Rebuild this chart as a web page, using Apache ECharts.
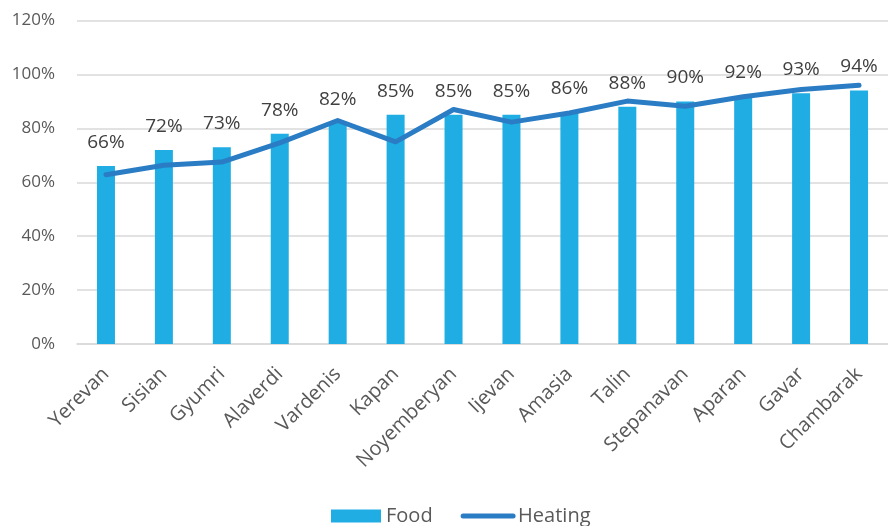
<!DOCTYPE html>
<html>
<head>
<meta charset="utf-8">
<script src="https://cdn.jsdelivr.net/npm/echarts@6/dist/echarts.min.js"></script>
<style>
  html, body { margin: 0; padding: 0; background: #ffffff; }
  #chart { width: 888px; height: 526px; }
</style>
</head>
<body>
<div id="chart"></div>
<script>
// Towns along the category axis
const towns = ['Yerevan', 'Sisian', 'Gyumri', 'Alaverdi', 'Vardenis', 'Kapan', 'Noyemberyan',
  'Ijevan', 'Amasia', 'Talin', 'Stepanavan', 'Aparan', 'Gavar', 'Chambarak'];

// Share of households (%) per town
const food = [66, 72, 73, 78, 82, 85, 85, 85, 86, 88, 90, 92, 93, 94];
const heating = [62.8, 66.3, 67.5, 74.6, 82.9, 75.0, 87.0, 82.3, 85.7, 90.1, 88.2, 91.7, 94.4, 96.0];

// Value axis range and tick step
const yMin = 0;
const yMax = 120;
const yStep = 20;

const FONT = '"Open Sans", "Noto Sans", sans-serif';

const chart = echarts.init(document.getElementById('chart'), null, { renderer: 'canvas' });

chart.setOption({
  animation: false,
  backgroundColor: '#ffffff',
  textStyle: { fontFamily: FONT },
  grid: { left: 77, right: -10, top: 20.5, bottom: 182, containLabel: false },
  legend: {
    left: 331,
    top: 506,
    padding: 0,
    itemWidth: 50,
    itemHeight: 13,
    itemGap: 28,
    textStyle: { fontFamily: FONT, fontSize: 20, color: '#595959' },
    data: [
      { name: 'Food', icon: 'rect' },
      {
        name: 'Heating',
        itemStyle: { opacity: 0 },
        lineStyle: { width: 5, cap: 'round' }
      }
    ]
  },
  xAxis: {
    type: 'category',
    data: towns,
    axisTick: { show: false },
    axisLine: { lineStyle: { color: '#d9d9d9', width: 1.5 } },
    axisLabel: {
      rotate: 45,
      interval: 0,
      margin: 27,
      fontFamily: FONT,
      fontSize: 20,
      color: '#595959'
    }
  },
  yAxis: {
    type: 'value',
    min: yMin,
    max: yMax,
    interval: yStep,
    axisLine: { show: false },
    axisTick: { show: false },
    splitLine: { lineStyle: { color: '#d9d9d9', width: 1.5 } },
    axisLabel: {
      margin: 22,
      fontFamily: FONT,
      fontSize: 17,
      color: '#595959',
      formatter: v => v + '%'
    }
  },
  series: [
    {
      name: 'Food',
      type: 'bar',
      data: food,
      barWidth: 18,
      itemStyle: { color: '#1fade4' },
      label: {
        show: true,
        position: 'top',
        distance: 14,
        fontFamily: FONT,
        fontSize: 19,
        color: '#404040',
        formatter: p => p.value + '%'
      },
      z: 2
    },
    {
      name: 'Heating',
      type: 'line',
      data: heating,
      symbol: 'none',
      showSymbol: false,
      lineStyle: { color: '#2a7dc4', width: 5, cap: 'round', join: 'round' },
      itemStyle: { color: '#2a7dc4' },
      z: 3
    }
  ]
});
</script>
</body>
</html>
